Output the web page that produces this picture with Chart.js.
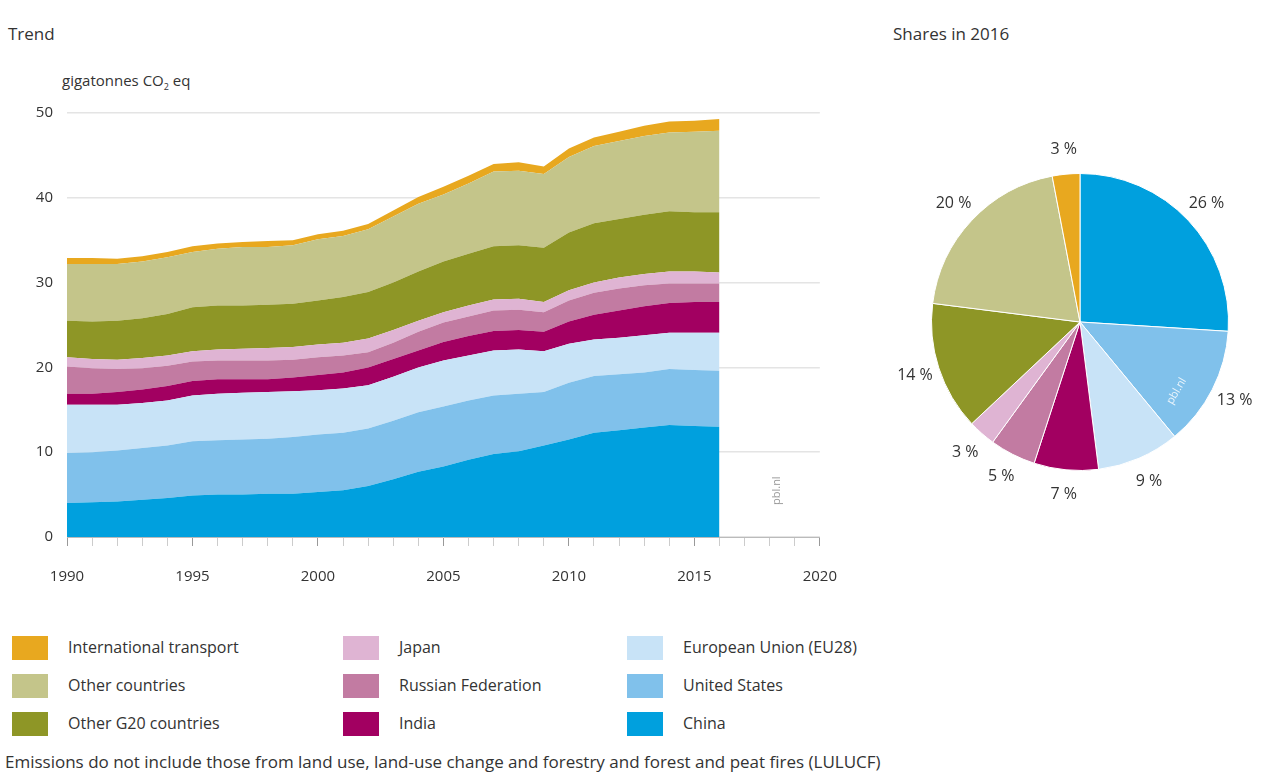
<!DOCTYPE html>
<html>
<head>
<meta charset="utf-8">
<script src="https://cdn.jsdelivr.net/npm/chart.js@4/dist/chart.umd.min.js"></script>
<style>
  body { margin: 0; background: #fff; font-family: "Open Sans", sans-serif; color: #333; }
  #page { position: relative; width: 1270px; height: 779px; overflow: hidden; }
  .txt { position: absolute; white-space: nowrap; }
  #areaWrap { position: absolute; left: 0; top: 90px; width: 859px; height: 510px; }
  #pieWrap { position: absolute; left: 880px; top: 122px; width: 400px; height: 400px; }
  .sw { position: absolute; width: 36px; height: 24px; }
  .lg { position: absolute; font-size: 16px; color: #333; }
</style>
</head>
<body>
<div id="page">
  <div class="txt" style="left:8px; top:22px; font-size:17px;">Trend</div>
  <div class="txt" style="left:893px; top:22px; font-size:17px;">Shares in 2016</div>
  <div class="txt" style="left:62px; top:70px; font-size:15px;">gigatonnes CO<sub style="font-size:9px">2</sub> eq</div>

  <div id="areaWrap"><canvas id="areaChart" width="859" height="510"></canvas></div>
  <div id="pieWrap"><canvas id="pieChart" width="400" height="400"></canvas></div>

  <div class="txt" style="left:768px; top:505px; font-size:11px; color:#999; transform:rotate(-90deg); transform-origin:left top;">pbl.nl</div>

  <div id="legend"></div>

  <div class="txt" style="left:5px; top:750px; font-size:17px;">Emissions do not include those from land use, land-use change and forestry and forest and peat fires (LULUCF)</div>
</div>

<script>
// years 1990 - 2016
const years = [1990, 1991, 1992, 1993, 1994, 1995, 1996, 1997, 1998, 1999,
               2000, 2001, 2002, 2003, 2004, 2005, 2006, 2007, 2008, 2009,
               2010, 2011, 2012, 2013, 2014, 2015, 2016];

// gigatonnes CO2 eq, per region (stacked bottom to top)
const china   = [4.0, 4.1, 4.2, 4.4, 4.6, 4.9, 5.0, 5.0, 5.1, 5.1, 5.3, 5.5, 6.0, 6.8, 7.7, 8.3, 9.1, 9.8, 10.1, 10.8, 11.5, 12.3, 12.6, 12.9, 13.2, 13.1, 13.0];
const usa     = [5.9, 5.9, 6.0, 6.1, 6.2, 6.4, 6.4, 6.5, 6.5, 6.7, 6.8, 6.8, 6.8, 6.9, 7.0, 7.1, 7.0, 6.9, 6.8, 6.3, 6.7, 6.7, 6.6, 6.5, 6.6, 6.6, 6.6];
const eu      = [5.7, 5.6, 5.4, 5.3, 5.3, 5.4, 5.5, 5.5, 5.5, 5.4, 5.2, 5.2, 5.1, 5.2, 5.3, 5.4, 5.3, 5.3, 5.2, 4.8, 4.6, 4.3, 4.3, 4.4, 4.3, 4.4, 4.5];
const india   = [1.3, 1.3, 1.5, 1.6, 1.7, 1.7, 1.7, 1.6, 1.5, 1.6, 1.8, 1.9, 2.1, 2.1, 2.0, 2.2, 2.3, 2.3, 2.3, 2.3, 2.6, 2.9, 3.2, 3.4, 3.5, 3.6, 3.6];
const russia  = [3.2, 3.0, 2.7, 2.5, 2.4, 2.3, 2.2, 2.2, 2.2, 2.1, 2.1, 2.0, 1.8, 1.9, 2.2, 2.3, 2.3, 2.4, 2.4, 2.3, 2.5, 2.6, 2.6, 2.5, 2.3, 2.2, 2.2];
const japan   = [1.1, 1.1, 1.1, 1.2, 1.2, 1.2, 1.3, 1.4, 1.5, 1.5, 1.5, 1.5, 1.6, 1.5, 1.3, 1.2, 1.3, 1.3, 1.3, 1.2, 1.2, 1.2, 1.3, 1.3, 1.4, 1.4, 1.3];
const otherG20 = [4.3, 4.4, 4.6, 4.7, 4.9, 5.2, 5.2, 5.1, 5.1, 5.1, 5.2, 5.4, 5.5, 5.6, 5.8, 6.0, 6.1, 6.3, 6.3, 6.4, 6.8, 7.0, 6.9, 7.0, 7.1, 7.0, 7.1];
const otherCountries = [6.7, 6.8, 6.7, 6.7, 6.7, 6.5, 6.7, 6.9, 6.8, 6.9, 7.2, 7.2, 7.4, 7.8, 8.0, 7.9, 8.3, 8.8, 8.8, 8.7, 8.9, 9.1, 9.2, 9.3, 9.3, 9.5, 9.6];
const intlTransport = [0.7, 0.7, 0.6, 0.6, 0.6, 0.7, 0.6, 0.6, 0.7, 0.6, 0.6, 0.6, 0.6, 0.7, 0.8, 0.9, 0.9, 0.9, 1.0, 0.9, 1.0, 1.0, 1.1, 1.2, 1.3, 1.3, 1.4];

// shares in 2016 (%), clockwise from top
const pieLabels = ["China", "United States", "European Union (EU28)", "India", "Russian Federation", "Japan", "Other G20 countries", "Other countries", "International transport"];
const pieShares = [26, 13, 9, 7, 5, 3, 14, 20, 3];

const colors = {
    "International transport": "#e8a81f",
    "Other countries": "#c4c58a",
    "Other G20 countries": "#8e9626",
    "Japan": "#dfb4d3",
    "Russian Federation": "#c27ba2",
    "India": "#a20061",
    "European Union (EU28)": "#c8e3f7",
    "United States": "#80c1eb",
    "China": "#00a0de"
};

const series = [
    ["China", china],
    ["United States", usa],
    ["European Union (EU28)", eu],
    ["India", india],
    ["Russian Federation", russia],
    ["Japan", japan],
    ["Other G20 countries", otherG20],
    ["Other countries", otherCountries],
    ["International transport", intlTransport]
];

const tickFont = { family: "Open Sans", size: 15 };

new Chart(document.getElementById("areaChart"), {
    type: "line",
    data: {
        datasets: series.map((s, i) => ({
            label: s[0],
            data: years.map((yr, j) => ({ x: yr, y: s[1][j] })),
            backgroundColor: colors[s[0]],
            borderWidth: 0,
            pointRadius: 0,
            fill: i === 0 ? "origin" : "-1",
            tension: 0
        }))
    },
    options: {
        responsive: false,
        animation: false,
        layout: { padding: { top: 17, right: 0 } },
        plugins: { legend: { display: false }, tooltip: { enabled: false } },
        scales: {
            x: {
                type: "linear",
                min: 1990,
                max: 2020,
                afterFit: scale => { scale.height = 63; },
                ticks: {
                    stepSize: 1,
                    autoSkip: false,
                    maxRotation: 0,
                    color: "#333",
                    font: tickFont,
                    padding: 22,
                    callback: v => (v % 5 === 0 ? String(v) : "")
                },
                grid: {
                    drawOnChartArea: false,
                    tickLength: 9,
                    color: ctx => (ctx.tick && ctx.tick.value % 5 === 0 ? "#999" : "#ccc")
                },
                border: { color: "#bbb" }
            },
            y: {
                stacked: true,
                min: 0,
                max: 50,
                afterFit: scale => { scale.width = 67; },
                ticks: { stepSize: 10, color: "#333", font: tickFont, padding: 14 },
                grid: { color: "#e4e4e4", lineWidth: 1.5, drawTicks: false },
                border: { display: false }
            }
        }
    }
});

// percentage labels outside the pie slices
const pieLabelPlugin = {
    id: "pieLabels",
    afterDraw(chart) {
        const ctx = chart.ctx;
        const arcs = chart.getDatasetMeta(0).data;
        ctx.save();
        ctx.font = "16px 'Open Sans'";
        ctx.fillStyle = "#333";
        ctx.textAlign = "center";
        ctx.textBaseline = "middle";
        arcs.forEach((arc, i) => {
            const mid = (arc.startAngle + arc.endAngle) / 2;
            const r = arc.outerRadius + 25;
            ctx.fillText(pieShares[i] + " %", arc.x + Math.cos(mid) * r, arc.y + Math.sin(mid) * r);
        });
        // watermark on the US slice
        const us = arcs[1];
        const a = (us.startAngle + us.endAngle) / 2 + 0.15;
        ctx.translate(us.x + Math.cos(a) * us.outerRadius * 0.8, us.y + Math.sin(a) * us.outerRadius * 0.8);
        ctx.rotate(-Math.PI / 3);
        ctx.font = "11px 'Open Sans'";
        ctx.fillStyle = "rgba(255,255,255,0.85)";
        ctx.fillText("pbl.nl", 0, 0);
        ctx.restore();
    }
};

new Chart(document.getElementById("pieChart"), {
    type: "pie",
    data: {
        labels: pieLabels,
        datasets: [{
            data: pieShares,
            backgroundColor: pieLabels.map(l => colors[l]),
            borderColor: "#fff",
            borderWidth: 1
        }]
    },
    options: {
        responsive: false,
        animation: false,
        layout: { padding: 51 },
        plugins: { legend: { display: false }, tooltip: { enabled: false } }
    },
    plugins: [pieLabelPlugin]
});

// legend in three columns
const legendCols = [
    ["International transport", "Other countries", "Other G20 countries"],
    ["Japan", "Russian Federation", "India"],
    ["European Union (EU28)", "United States", "China"]
];
const colX = [12, 343, 627];
const rowY = [636, 674, 712];
const legend = document.getElementById("legend");
legendCols.forEach((col, c) => {
    col.forEach((name, r) => {
        const sw = document.createElement("div");
        sw.className = "sw";
        sw.style.left = colX[c] + "px";
        sw.style.top = rowY[r] + "px";
        sw.style.background = colors[name];
        legend.appendChild(sw);
        const lb = document.createElement("div");
        lb.className = "lg";
        lb.style.left = (colX[c] + 56) + "px";
        lb.style.top = (rowY[r] + 0) + "px";
        lb.textContent = name;
        legend.appendChild(lb);
    });
});
</script>
</body>
</html>
